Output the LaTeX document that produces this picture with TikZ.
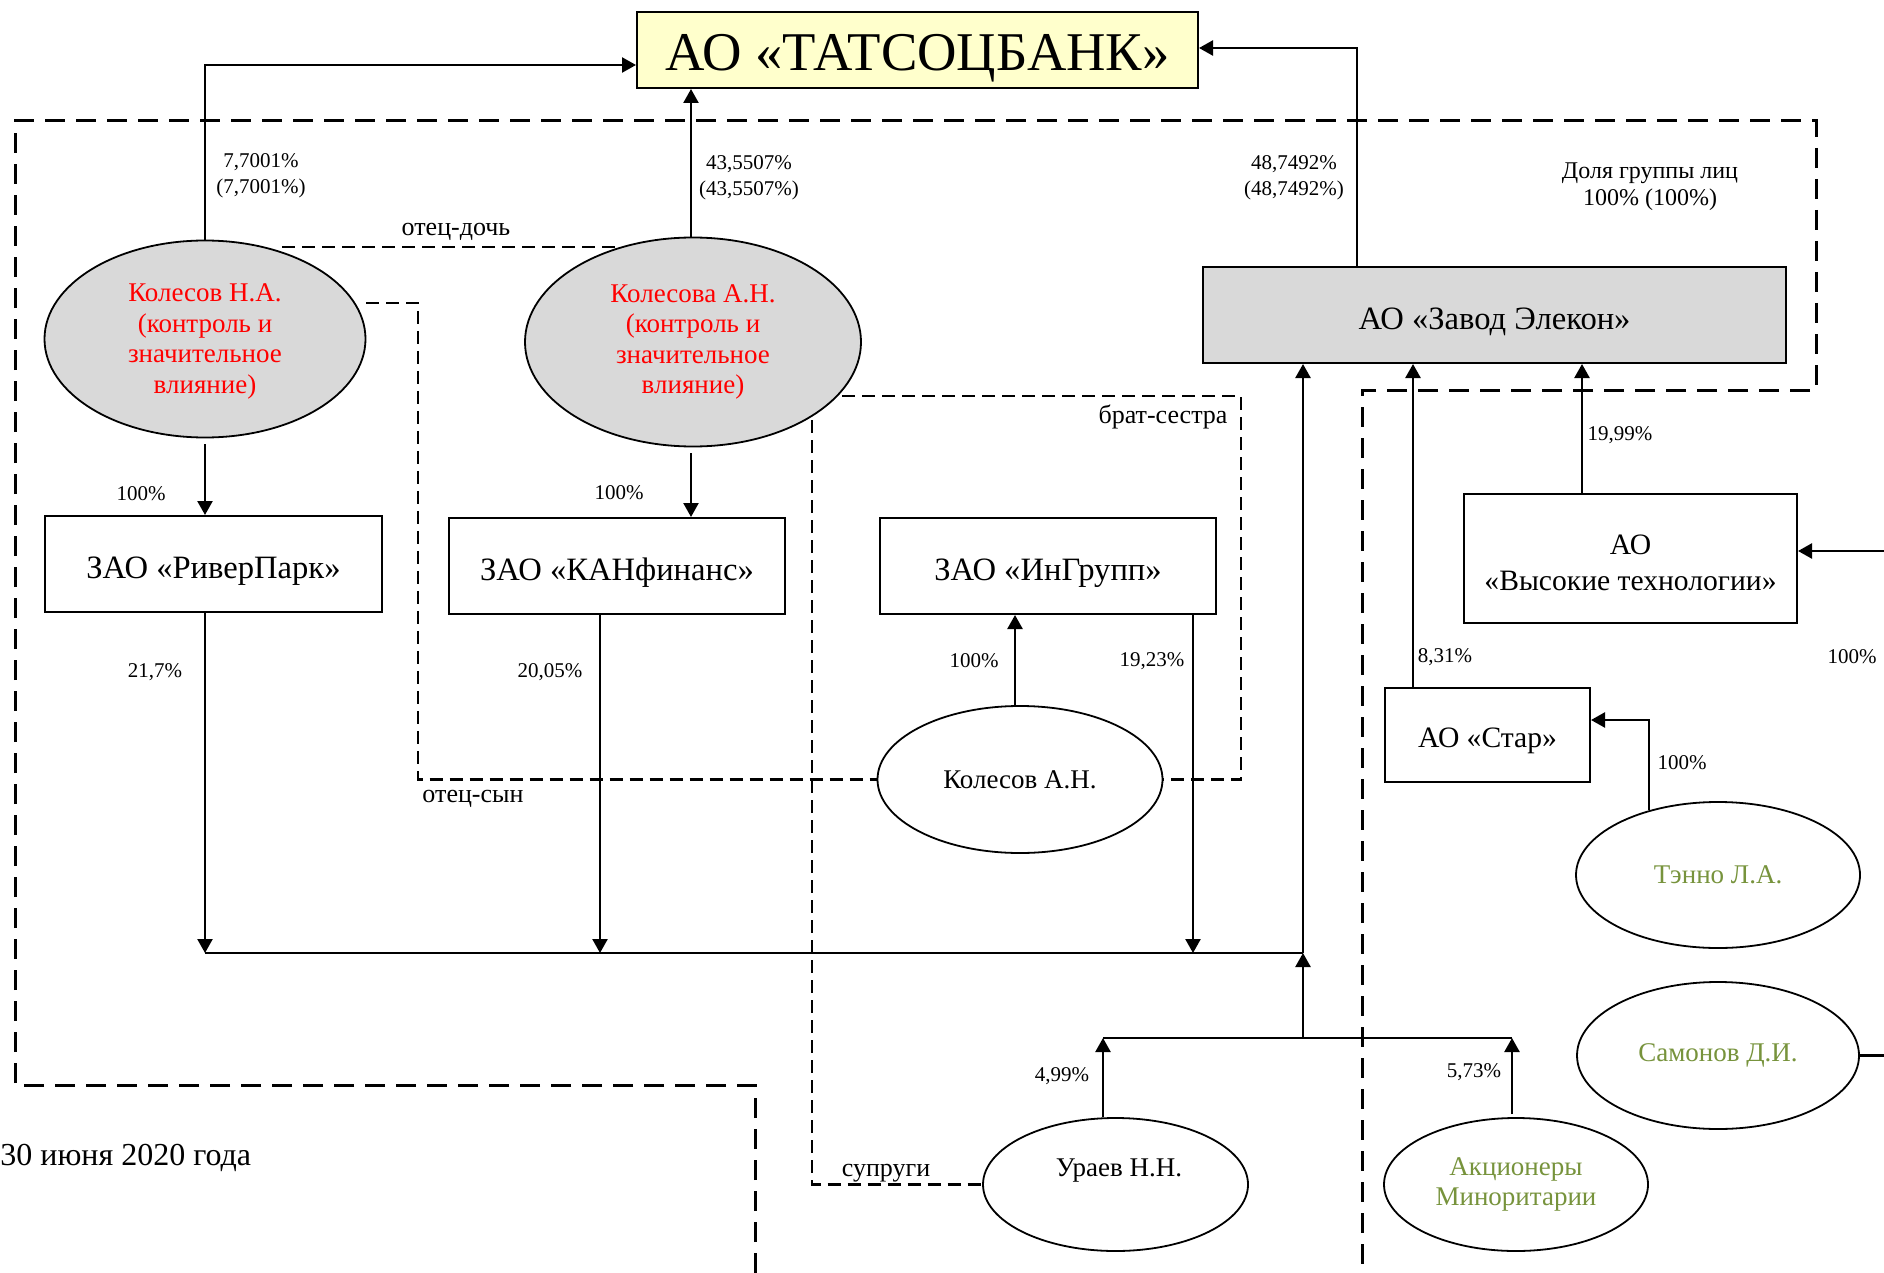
\documentclass[tikz,border=0pt]{standalone}
\usepackage{fontspec}
\setmainfont{Liberation Serif}
\usetikzlibrary{shapes.geometric,arrows.meta,calc}
\definecolor{olivegr}{HTML}{77933C}
\definecolor{grayfill}{HTML}{D9D9D9}
\definecolor{bankfill}{HTML}{FFFFCC}
\newcommand\lowtext[2]{\raisebox{-#1}[\height][\depth]{#2}}
\begin{document}
\begin{tikzpicture}[x=0.5pt,y=-0.5pt,
  box/.style={draw, line width=1pt, rectangle, inner sep=0pt, align=center, font=\fontsize{16.3}{18}\selectfont},
  pers/.style={draw, ellipse, line width=0.9pt, inner sep=0pt, align=center, font=\fontsize{13.5}{15.25}\selectfont},
  ln/.style={line width=1.2pt},
  arr/.style={ln, -{Triangle[length=7pt,width=7.5pt]}},
  rel/.style={line width=1.1pt, dash pattern=on 6.5pt off 3.5pt},
  grp/.style={line width=1.5pt, dash pattern=on 10pt off 5.5pt},
  pct/.style={font=\fontsize{10.5}{13}\selectfont, inner sep=0pt, align=center},
  lbl/.style={font=\fontsize{13}{15}\selectfont, inner sep=0pt, align=center}]
\fill[white] (0,0) rectangle (1884,1273);
\useasboundingbox (0,0) rectangle (1884,1273);

% group boundary
\draw[grp] (755,1273) -- (755,1085) -- (15,1085) -- (15,121) -- (1816,121) -- (1816,390) -- (1362,390) -- (1362,1273);

% nodes
\node[box, fill=bankfill, minimum width=280.5pt, minimum height=38pt, font=\fontsize{27.3}{30}\selectfont] (bank) at (917.5,50) {\lowtext{4pt}{АО «ТАТСОЦБАНК»}};
\node[box, fill=grayfill, minimum width=291.5pt, minimum height=48pt] (zavod) at (1494.5,315) {\lowtext{3.5pt}{АО «Завод Элекон»}};
\node[box, minimum width=168.5pt, minimum height=48pt] (rp) at (213.5,564) {\lowtext{3.5pt}{ЗАО «РиверПарк»}};
\node[box, minimum width=168pt, minimum height=48pt] (kf) at (617,566) {\lowtext{3.5pt}{ЗАО «КАНфинанс»}};
\node[box, minimum width=168pt, minimum height=48pt] (ig) at (1048,566) {\lowtext{3.5pt}{ЗАО «ИнГрупп»}};
\node[box, minimum width=166.5pt, minimum height=64.5pt, font=\fontsize{14.8}{18}\selectfont] (vt) at (1630.5,558.5) {\lowtext{2pt}{АО}\\\lowtext{2pt}{«Высокие технологии»}};
\node[box, minimum width=102.5pt, minimum height=47pt, font=\fontsize{14.8}{18}\selectfont] (star) at (1487.5,735) {\lowtext{3pt}{АО «Стар»}};

\node[pers, fill=grayfill, text=red, minimum width=160.5pt, minimum height=98.5pt] (kna) at (205,339) {\lowtext{1.2pt}{Колесов Н.А.}\\\lowtext{1.2pt}{(контроль и}\\\lowtext{1.2pt}{значительное}\\\lowtext{1.2pt}{влияние)}};
\node[pers, fill=grayfill, text=red, minimum width=168pt, minimum height=104.5pt] (kan) at (693,342) {Колесова А.Н.\\(контроль и\\значительное\\влияние)};
\node[pers, minimum width=142.5pt, minimum height=73.5pt] (kol) at (1020,779.5) {Колесов А.Н.};
\node[pers, text=olivegr, minimum width=142pt, minimum height=73pt] (ten) at (1718,875) {Тэнно Л.А.};
\node[pers, text=olivegr, minimum width=141pt, minimum height=73.5pt] (sam) at (1718,1055.5) {Самонов Д.И.};
\node[pers, minimum width=132.5pt, minimum height=66.5pt] (ur) at (1115.5,1184.5) {};
\node[lbl, font=\fontsize{13.5}{15.25}\selectfont] (urt) at (1119,1171) {Ураев Н.Н.};
\node[pers, text=olivegr, minimum width=132pt, minimum height=66.5pt] (ak) at (1516,1184.5) {Акционеры\\Миноритарии};

% relation dashed lines
\coordinate (od1) at (282,247);
\coordinate (od2) at (617,247);
\draw[rel] (od1) -- (od2);
\coordinate (os1) at (366,303);
\draw[rel] (os1) -- (418,303) |- (kol.west);
\coordinate (bs1) at (842,396);
\draw[rel] (bs1) -- (1241,396) |- (kol.east);
\coordinate (sp1) at (812,420);
\draw[rel] (sp1) |- (ur.west);

% ownership arrows
\draw[arr] (kna.north) |- ([yshift=-7.5pt]bank.west);
\draw[arr] ([xshift=-1pt]kan.north) -- ([xshift=-1pt]kan.north |- bank.south);
\draw[arr] ([xshift=-68.75pt]zavod.north) |- ([yshift=1pt]bank.east);
\draw[arr] ([yshift=-3pt]kna.south) -- (kna.south |- rp.north);
\draw[arr] ([xshift=-1pt,yshift=-3pt]kan.south) -- ([xshift=-1pt]kan.south |- kf.north);

\coordinate (busL) at (205,953);
\coordinate (b2) at (600,953);
\coordinate (b3) at (1193,953);
\coordinate (busR) at (1303,953);
\draw[arr] (rp.south -| busL) -- (busL);
\draw[arr] (kf.south -| b2) -- (b2);
\draw[arr] (ig.south -| b3) -- (b3);
\draw[ln] (busL) -- (busR);
\draw[arr] (busR) -- (busR |- zavod.south);

\coordinate (lj) at (1103,1038);
\coordinate (mj) at (1303,1038);
\coordinate (rj) at (1512,1038);
\draw[arr] (ur.north -| lj) -- (lj);
\draw[arr] ([yshift=1.5pt]ak.north -| rj) -- (rj);
\draw[ln] (lj) -- (rj);
\draw[arr] (mj) -- (busR);

\draw[arr] ([xshift=-2.5pt]kol.north) -- ([xshift=-2.5pt]kol.north |- ig.south);
\draw[arr] ([xshift=-37.25pt]star.north) -- ([xshift=-37.25pt]star.north |- zavod.south);
\draw[arr] ([xshift=-24.25pt]vt.north) -- ([xshift=-24.25pt]vt.north |- zavod.south);
\draw[arr] (ten.137) |- ([yshift=7.5pt]star.east);
\coordinate (vtin) at (1884,551);
\draw[arr] (vtin) -- (vtin -| vt.east);
\coordinate (samout) at (1884,1058);
\draw[ln] (sam.east) -- (sam.east -| samout);

% labels
\node[pct] (l1) at (261,176) {7,7001\%\\(7,7001\%)};
\node[pct] (l2) at (749,178) {43,5507\%\\(43,5507\%)};
\node[pct] (l3) at (1294,178) {48,7492\%\\(48,7492\%)};
\node[pct, font=\fontsize{12}{13.5}\selectfont] (l4) at (1650,187) {Доля группы лиц\\100\% (100\%)};
\node[lbl] (t1) at (456,232) {отец-дочь};
\node[lbl] (t2) at (473,799) {отец-сын};
\node[lbl] (t3) at (1163,417) {брат-сестра};
\node[lbl] (t4) at (886,1173) {супруги};
\node[pct] (p1) at (141,494) {100\%};
\node[pct] (p2) at (619,493) {100\%};
\node[pct] (p3) at (155,672) {21,7\%};
\node[pct] (p4) at (550,672) {20,05\%};
\node[pct] (p5) at (974,661) {100\%};
\node[pct] (p6) at (1152,661) {19,23\%};
\node[pct] (p7) at (1620,435) {19,99\%};
\node[pct] (p8) at (1445,657) {8,31\%};
\node[pct] (p9) at (1852,657) {100\%};
\node[pct] (p10) at (1682,763) {100\%};
\node[pct] (p11) at (1062,1076) {4,99\%};
\node[pct] (p12) at (1474,1072) {5,73\%};
\node[anchor=west, inner sep=0pt, font=\fontsize{16}{18}\selectfont] (date) at (0,1158) {30 июня 2020 года};
\end{tikzpicture}
\end{document}
